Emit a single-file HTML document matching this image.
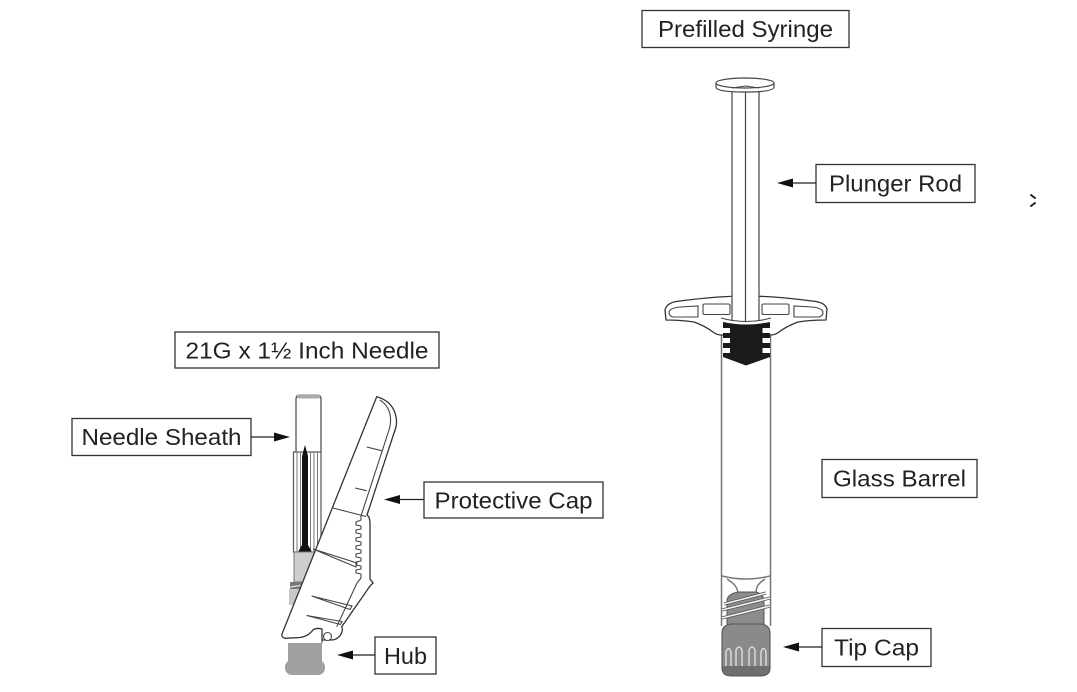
<!DOCTYPE html>
<html><head><meta charset="utf-8"><style>
html,body{margin:0;padding:0;background:#fff;}
svg{display:block;}
text{font-family:"Liberation Sans",Arial,sans-serif;font-size:23.5px;fill:#222;}
</style></head><body>
<svg width="1077" height="692" viewBox="0 0 1077 692" xmlns="http://www.w3.org/2000/svg">
<rect width="1077" height="692" fill="#fff"/>

<!-- ===== Label boxes ===== -->
<g fill="#fff" stroke="#333" stroke-width="1.3">
<rect x="642" y="10.5" width="207" height="37"/>
<rect x="816" y="164.5" width="159" height="38"/>
<rect x="822" y="459.5" width="155" height="38"/>
<rect x="822" y="628.5" width="109" height="38"/>
<rect x="175" y="332" width="264" height="36"/>
<rect x="72" y="418.5" width="179" height="37"/>
<rect x="424" y="482" width="179" height="36"/>
<rect x="375" y="637" width="61" height="37"/>
</g>
<text x="745.5" y="37" text-anchor="middle" textLength="175" lengthAdjust="spacingAndGlyphs">Prefilled Syringe</text>
<text x="895.5" y="191.5" text-anchor="middle" textLength="133" lengthAdjust="spacingAndGlyphs">Plunger Rod</text>
<text x="899.5" y="486.5" text-anchor="middle" textLength="133" lengthAdjust="spacingAndGlyphs">Glass Barrel</text>
<text x="876.5" y="655.5" text-anchor="middle" textLength="85" lengthAdjust="spacingAndGlyphs">Tip Cap</text>
<text x="307" y="358.5" text-anchor="middle" textLength="243" lengthAdjust="spacingAndGlyphs">21G x 1½ Inch Needle</text>
<text x="161.5" y="445" text-anchor="middle" textLength="160" lengthAdjust="spacingAndGlyphs">Needle Sheath</text>
<text x="513.5" y="508.5" text-anchor="middle" textLength="158" lengthAdjust="spacingAndGlyphs">Protective Cap</text>
<text x="405.5" y="664" text-anchor="middle" textLength="43" lengthAdjust="spacingAndGlyphs">Hub</text>

<!-- ===== Arrows ===== -->
<g stroke="#222" stroke-width="1.3">
<line x1="816" y1="183" x2="790" y2="183"/>
<line x1="251" y1="437" x2="276" y2="437"/>
<line x1="424" y1="499.5" x2="398" y2="499.5"/>
<line x1="375" y1="655" x2="350" y2="655"/>
<line x1="822" y1="647" x2="796" y2="647"/>
</g>
<g fill="#111">
<polygon points="777,183 793,178.5 793,187.5"/>
<polygon points="290,437 274,432.5 274,441.5"/>
<polygon points="384,499.5 400,495 400,504"/>
<polygon points="337,655 353,650.5 353,659.5"/>
<polygon points="783,647 799,642.5 799,651.5"/>
</g>

<!-- small mark at right -->
<g stroke="#222" stroke-width="2" stroke-linecap="round">
<line x1="1031" y1="195" x2="1035" y2="198"/>
<line x1="1035" y1="203" x2="1031" y2="206"/>
</g>

<!-- ===== Prefilled syringe ===== -->
<g stroke="#777" stroke-width="1.5" fill="none">
<line x1="721.5" y1="330" x2="721.5" y2="626"/>
<line x1="770.5" y1="330" x2="770.5" y2="626"/>
<path d="M722,576 Q746,582 770,576"/>
<path d="M727,579 C733,583 737,586 738,593"/>
<path d="M765,579 C759,583 756,586 756,593"/>
</g>
<!-- flange -->
<path d="M665,310 Q667,302 680,301 Q718,296 746,296 Q774,296 812,301 Q825,302 827,309 L826,320 Q810,320 798,322 Q787,326 779,332 Q775,335 771,335 L721,335 Q717,335 713,332 Q705,326 694,322 Q681,320 666,320 Z" fill="#fff" stroke="#333" stroke-width="1.3" stroke-linejoin="round"/>
<g fill="none" stroke="#444" stroke-width="1.1">
<path d="M669,312 Q670,308 680,307 L698,306 L698,317 L673,317 Q669,316 669,312 Z"/>
<rect x="703" y="304" width="27" height="10.5" rx="1.5"/>
<path d="M823,312 Q822,308 812,307 L794,306 L794,317 L819,317 Q823,316 823,312 Z"/>
<rect x="762" y="304" width="27" height="10.5" rx="1.5"/>
<path d="M721,318 Q746,325 771,318"/>
</g>
<!-- plunger rod -->
<rect x="732" y="89" width="27" height="231" fill="#fff"/>
<g stroke="#444" stroke-width="1.2" fill="none">
<line x1="732" y1="89" x2="732" y2="321"/>
<line x1="759" y1="89" x2="759" y2="321"/>
<line x1="745.5" y1="88" x2="745.5" y2="321"/>
</g>
<!-- plunger disk -->
<path d="M716,83 L716,87 Q716,92 745,92 Q774,92 774,87 L774,83" fill="#fff" stroke="#444" stroke-width="1.2"/>
<ellipse cx="745" cy="83" rx="29" ry="5" fill="#fff" stroke="#444" stroke-width="1.2"/>
<path d="M732,88 L745.5,86 L759,88" fill="none" stroke="#444" stroke-width="1"/>
<!-- stopper -->
<path d="M723,322 Q746,327 770,322 L770,357 L746,365.5 L723,357 Z" fill="#1a1a1a"/>
<g fill="#fff">
<rect x="722.5" y="328" width="7.5" height="5"/>
<rect x="722.5" y="338" width="7.5" height="5"/>
<rect x="722.5" y="348" width="7.5" height="5"/>
<rect x="762.5" y="328" width="7.5" height="5"/>
<rect x="762.5" y="338" width="7.5" height="5"/>
<rect x="762.5" y="348" width="7.5" height="5"/>
</g>
<!-- luer lock threaded -->
<path d="M738,592 L756,592 Q763,594 764,600 L764,625 L727,625 L727,600 Q728,594 738,592 Z" fill="#8c8c8c" stroke="#555" stroke-width="1"/>
<g stroke="#555" stroke-width="3.2" fill="none">
<line x1="722" y1="610" x2="770" y2="598"/>
<line x1="722" y1="618" x2="770" y2="606"/>
<line x1="724" y1="604" x2="766" y2="593"/>
</g>
<g stroke="#f2f2f2" stroke-width="1.6" fill="none">
<line x1="722" y1="610" x2="770" y2="598"/>
<line x1="722" y1="618" x2="770" y2="606"/>
<line x1="724" y1="604" x2="766" y2="593"/>
</g>
<!-- tip cap -->
<path d="M722,633 Q722,625 731,624 L761,624 Q770,625 770,633 L770,668 Q770,676 760,676 L732,676 Q722,676 722,668 Z" fill="#8a8a8a" stroke="#555" stroke-width="1.1"/>
<path d="M722.5,666 L769.5,666 L769.5,668 Q769.5,675.5 760,675.5 L732,675.5 Q722.5,675.5 722.5,668 Z" fill="#6f6f6f"/>
<g stroke="#e6e6e6" stroke-width="1.3" fill="none">
<path d="M726,666 L726,652 Q728.5,645 731,652 L731,666"/>
<path d="M736,666 L736,650 Q739,644 742,650 L742,666"/>
<path d="M749,666 L749,650 Q752,644 755,650 L755,666"/>
<path d="M761,666 L761,652 Q763.5,645 766,652 L766,666"/>
</g>

<!-- ===== Needle assembly ===== -->
<path d="M296,452 L296,399 Q296,395 300,395 L317,395 Q321,395 321,399 L321,452" fill="#fff" stroke="#555" stroke-width="1.3"/>
<rect x="297" y="394.5" width="23" height="4" rx="1.5" fill="#aaa"/>
<rect x="293.5" y="452" width="27.5" height="100" fill="#fff" stroke="#555" stroke-width="1.2"/>
<g stroke="#777" stroke-width="1">
<line x1="297" y1="452" x2="297" y2="552"/>
<line x1="300.5" y1="452" x2="300.5" y2="552"/>
<line x1="310.5" y1="452" x2="310.5" y2="552"/>
<line x1="314" y1="452" x2="314" y2="552"/>
<line x1="317.5" y1="452" x2="317.5" y2="552"/>
</g>
<path d="M305,445 L308,456 L308,545 L312,552 L298,552 L302,545 L302,456 Z" fill="#111"/>
<rect x="294" y="552" width="26" height="30" fill="#cdcdcd" stroke="#777" stroke-width="1"/>
<rect x="290" y="582" width="28" height="7" fill="#777"/>
<g stroke="#ddd" stroke-width="1.2"><line x1="290" y1="587" x2="318" y2="583"/></g>
<rect x="289" y="589" width="28" height="16" fill="#c8c8c8"/>

<!-- protective cap -->
<path d="M376.7,396.7 C385,399 392,404 395,413 Q397.5,420 396,427 L367,515 L369,517 L370,522 L370,579 L373,583 L370,586 L341.7,626.7 C344,632 339,640 331,640 L322,640 L322,629 Q316,627.5 313,630 Q308,636.5 300,637.5 L285,638.3 Q281,637 282,634 Z" fill="#fff" stroke="#333" stroke-width="1.3" stroke-linejoin="round"/>
<path d="M380,400 C386,404 390,410 390.5,418 Q391,424 389,430 L361,516 L361,520 L356,522 L356,525 L361,526 L361,529 L356,530 L356,533 L361,534 L361,537 L356,538 L356,541 L361,542 L361,545 L356,546 L356,549 L361,550 L361,553 L356,554 L356,557 L361,558 L361,561 L356,562 L356,565 L361,566 L361,569 L356,570 L356,573 L361,574 L361,578 L357,583 L336.7,626.7" fill="none" stroke="#444" stroke-width="1.1" stroke-linejoin="round"/>
<g stroke="#444" stroke-width="1.1" fill="none">
<line x1="366.7" y1="447" x2="381.7" y2="450.7"/>
<line x1="355" y1="488" x2="366.7" y2="490.7"/>
<line x1="333" y1="508" x2="366" y2="516.5"/>
<path d="M313,549 L357,563 L356,567 Z"/>
<path d="M311.7,596 L352,606 L350,609.5 Z"/>
<path d="M306.7,615.5 L342,621.5 L340.5,624.5 Z"/>
<line x1="322" y1="628.5" x2="322" y2="643"/>
</g>
<circle cx="327.5" cy="636.5" r="4" fill="#fff" stroke="#444" stroke-width="1.1"/>

<!-- hub -->
<rect x="288" y="643" width="34" height="19" fill="#a0a0a0"/>
<rect x="285" y="660" width="40" height="15" rx="7" fill="#a0a0a0"/>
</svg>
</body></html>
